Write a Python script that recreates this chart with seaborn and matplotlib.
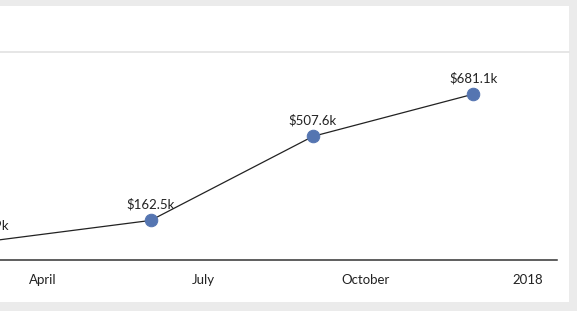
import numpy as np
import pandas as pd
import matplotlib
matplotlib.use("Agg")
import matplotlib.pyplot as plt
import matplotlib.dates as mdates
from matplotlib.patches import Rectangle
from matplotlib.lines import Line2D
import seaborn as sns

# data
dates = ["2017-03-01", "2017-06-01", "2017-09-01", "2017-12-01"]
revenue_k = [76.9, 162.5, 507.6, 681.1]
tick_dates = ["2017-04-01", "2017-07-01", "2017-10-01", "2018-01-01"]
tick_labels = ["April", "July", "October", "2018"]

df = pd.DataFrame({"date": pd.to_datetime(dates), "revenue": revenue_k})

sns.set_style("white")
plt.rcParams["font.family"] = ["Lato", "DejaVu Sans"]

W, H = 577, 311
fig = plt.figure(figsize=(W / 100, H / 100), dpi=100, facecolor="#ebebeb")

# white card + header separator
fig.patches.append(Rectangle((0, (H - 302) / H), 569 / W, (302 - 6) / H,
                             transform=fig.transFigure, facecolor="white",
                             edgecolor="none", zorder=-10))
fig.lines.append(Line2D([0, 569 / W], [(H - 52) / H] * 2, transform=fig.transFigure,
                        color="#e2e2e2", lw=1.2, zorder=-5))

ax = fig.add_axes([0, (H - 260) / H, 557 / W, 200 / H])
ax.set_facecolor("none")

sns.lineplot(data=df, x="date", y="revenue", ax=ax, color="#222222", lw=0.9,
             marker="o", markersize=9, markerfacecolor="#5575b1",
             markeredgecolor="#5575b1", zorder=3)

for d, v in zip(df["date"], df["revenue"]):
    ax.annotate(f"${v:.1f}k", (d, v), xytext=(0, 11.5), textcoords="offset points",
                ha="center", va="center", fontsize=9.5, color="#222222",
                annotation_clip=False)

x0 = mdates.date2num(pd.Timestamp("2017-04-01")) - 43 / 1.763
x1 = mdates.date2num(pd.Timestamp("2018-01-01")) + 29 / 1.763
ax.set_xlim(x0, x1)
ax.set_ylim(0, 200 / 0.2435)

ax.set_xticks(pd.to_datetime(tick_dates))
ax.set_xticklabels(tick_labels)
ax.tick_params(axis="x", length=0, pad=10, labelsize=9.5, labelcolor="#222222")
ax.set_yticks([])
ax.set_xlabel("")
ax.set_ylabel("")
for s in ["top", "right", "left"]:
    ax.spines[s].set_visible(False)
ax.spines["bottom"].set_color("#333333")
ax.spines["bottom"].set_linewidth(1.1)

fig.savefig("out.png", dpi=100, facecolor=fig.get_facecolor())
